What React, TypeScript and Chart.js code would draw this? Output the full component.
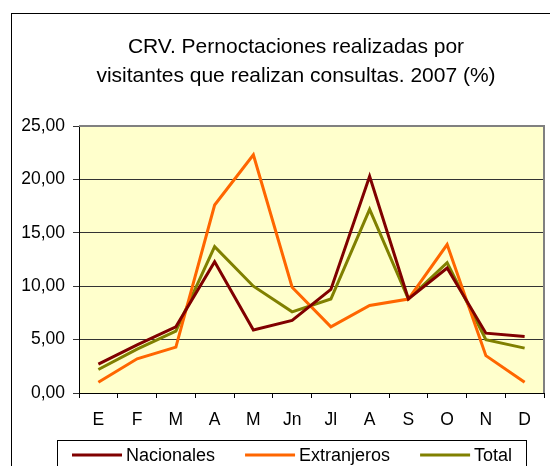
import React, { useEffect, useRef } from 'react';
import { Chart, registerables } from 'chart.js';

Chart.register(...registerables);

const categories = ['E', 'F', 'M', 'A', 'M', 'Jn', 'Jl', 'A', 'S', 'O', 'N', 'D'];
const nacionales = [2.7, 4.5, 6.2, 12.3, 5.9, 6.8, 9.7, 20.3, 8.8, 11.7, 5.6, 5.3];
const extranjeros = [1.0, 3.2, 4.3, 17.6, 22.3, 9.9, 6.2, 8.2, 8.8, 13.9, 3.5, 1.0];
const total = [2.2, 4.1, 5.8, 13.7, 10.0, 7.6, 8.8, 17.2, 8.8, 12.2, 5.0, 4.2];
const seriesNames = ['Nacionales', 'Extranjeros', 'Total'];
const seriesColors = ['#800000', '#FF6600', '#808000'];
const yTicks = [0, 5, 10, 15, 20, 25];
const titleLines = ['CRV. Pernoctaciones realizadas por', 'visitantes que realizan consultas. 2007 (%)'];

const FONT = '"Liberation Sans", Arial, sans-serif';

const decor = {
  id: 'decor',
  beforeDraw(chart: any) {
    const { ctx, chartArea: a, width, height } = chart;
    ctx.save();
    ctx.fillStyle = '#ffffff';
    ctx.fillRect(0, 0, width, height);
    ctx.fillStyle = '#FFFFCC';
    ctx.fillRect(a.left, a.top, a.right - a.left, a.bottom - a.top);
    ctx.strokeStyle = '#000000';
    ctx.lineWidth = 1;
    ctx.strokeRect(11.5, 13.5, width, height);
    ctx.fillStyle = '#000000';
    ctx.font = `21px ${FONT}`;
    ctx.textAlign = 'center';
    ctx.textBaseline = 'alphabetic';
    ctx.fillText(titleLines[0], 296, 53);
    ctx.fillText(titleLines[1], 296, 82);
    ctx.restore();
  },
  beforeDatasetsDraw(chart: any) {
    const { ctx, chartArea: a } = chart;
    ctx.save();
    ctx.strokeStyle = '#808080';
    ctx.lineWidth = 2;
    ctx.beginPath();
    ctx.moveTo(a.left, a.top);
    ctx.lineTo(a.right, a.top);
    ctx.lineTo(a.right, a.bottom);
    ctx.stroke();
    ctx.restore();
  },
  afterDraw(chart: any) {
    const { ctx, height } = chart;
    ctx.save();
    ctx.strokeStyle = '#000000';
    ctx.lineWidth = 1;
    ctx.strokeRect(57.5, 440.5, 526 - 57, height);
    ctx.font = `18px ${FONT}`;
    ctx.textAlign = 'left';
    ctx.textBaseline = 'middle';
    let x = 72;
    const y = 455;
    seriesNames.forEach((name, i) => {
      ctx.strokeStyle = seriesColors[i];
      ctx.lineWidth = 3;
      ctx.beginPath();
      ctx.moveTo(x, y);
      ctx.lineTo(x + 50, y);
      ctx.stroke();
      ctx.fillStyle = '#000000';
      ctx.fillText(name, x + 54, y + 1);
      x = x + 54 + ctx.measureText(name).width + 30;
    });
    ctx.restore();
  },
};

export default function App() {
  const ref = useRef<HTMLCanvasElement>(null);
  useEffect(() => {
    if (!ref.current) return;
    const series = [nacionales, extranjeros, total];
    const chart = new Chart(ref.current, {
      type: 'line',
      data: {
        labels: categories,
        datasets: series.map((d, i) => ({
          label: seriesNames[i],
          data: d,
          borderColor: seriesColors[i],
          backgroundColor: seriesColors[i],
          borderWidth: 3,
          pointRadius: 0,
          tension: 0,
          fill: false,
        })),
      },
      options: {
        responsive: false,
        animation: false,
        layout: { padding: { top: 126, left: 11, right: 6, bottom: 0 } },
        plugins: { legend: { display: false }, title: { display: false }, tooltip: { enabled: false } },
        scales: {
          x: {
            offset: true,
            grid: { offset: true, drawOnChartArea: false, drawTicks: true, tickLength: 5, color: '#000000' },
            border: { color: '#000000', width: 1 },
            ticks: { color: '#000000', font: { family: FONT, size: 17.5 }, padding: 12, maxRotation: 0, autoSkip: false },
            afterFit: (s: any) => { s.height = 73; },
          },
          y: {
            min: 0,
            max: 25,
            afterBuildTicks: (s: any) => { s.ticks = yTicks.map((v) => ({ value: v })); },
            ticks: {
              color: '#000000',
              font: { family: FONT, size: 17.5 },
              padding: 8,
              callback: (v: any) => Number(v).toFixed(2).replace('.', ','),
            },
            grid: { color: '#333333', tickLength: 6 },
            border: { color: '#000000', width: 1 },
            afterFit: (s: any) => { s.width = 68; },
          },
        },
      },
      plugins: [decor],
    });
    return () => chart.destroy();
  }, []);
  return (
    <div style={{ position: 'absolute', left: 0, top: 0, width: 550, height: 466 }}>
      <canvas ref={ref} width={550} height={466} style={{ width: 550, height: 466, display: 'block' }} />
    </div>
  );
}
